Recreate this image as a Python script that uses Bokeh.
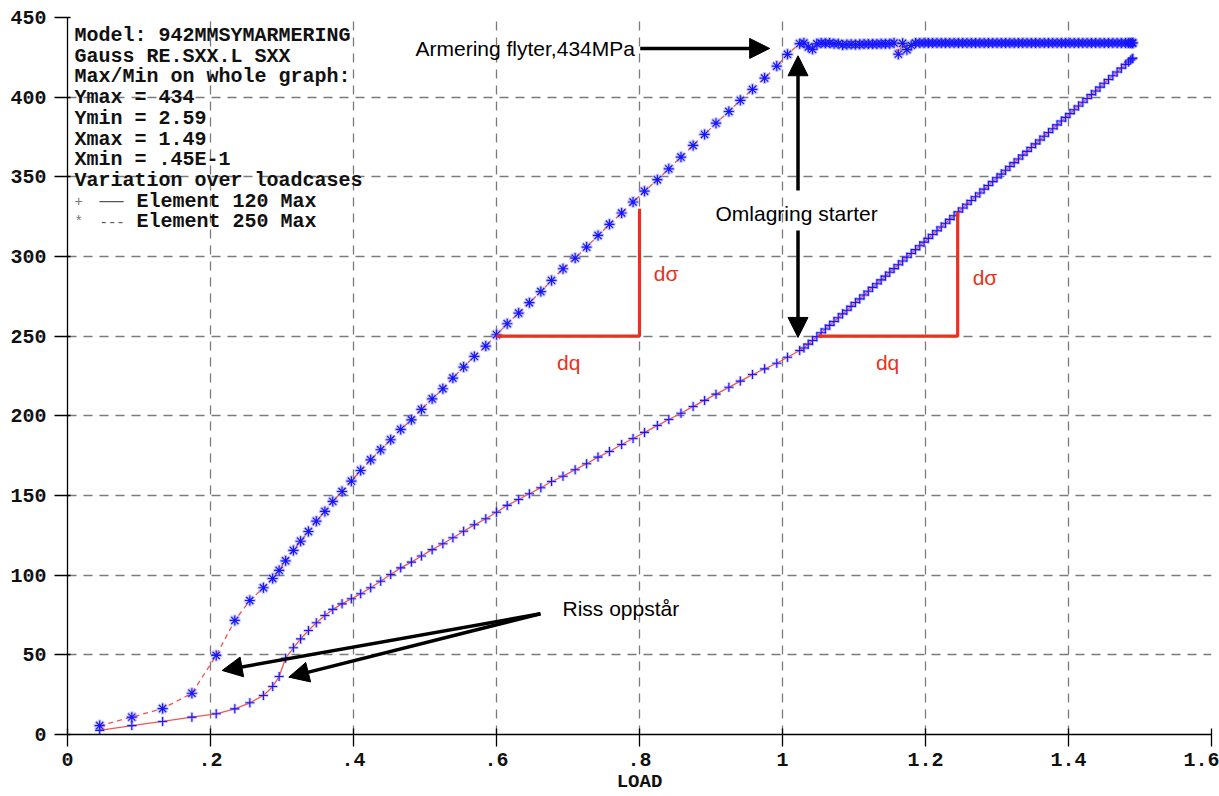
from bokeh.plotting import figure
from bokeh.models import Range1d, FixedTicker, Label, Arrow, NormalHead
from bokeh.embed import file_html
from bokeh.resources import INLINE

# ---------------- data ----------------
load = [
    0.045, 0.090, 0.133, 0.174, 0.208, 0.234, 0.255, 0.274, 0.287, 0.296,
    0.305, 0.316, 0.326, 0.337, 0.348, 0.360, 0.371, 0.384, 0.397, 0.410,
    0.424, 0.438, 0.452, 0.466, 0.481, 0.495, 0.510, 0.525, 0.539, 0.554,
    0.569, 0.585, 0.600, 0.615, 0.631, 0.646, 0.662, 0.677, 0.693, 0.710,
    0.726, 0.742, 0.758, 0.775, 0.791, 0.807, 0.825, 0.841, 0.858, 0.875,
    0.891, 0.907, 0.925, 0.941, 0.958, 0.975, 0.992, 1.007, 1.024,
    1.030, 1.036, 1.042, 1.048, 1.054, 1.060, 1.066, 1.072, 1.078, 1.084,
    1.090, 1.096, 1.102, 1.108, 1.114, 1.120, 1.126, 1.132, 1.138, 1.144,
    1.150, 1.156, 1.162, 1.168, 1.174, 1.180, 1.186, 1.192, 1.198, 1.204,
    1.210, 1.216, 1.222, 1.228, 1.234, 1.240, 1.246, 1.252, 1.258, 1.264,
    1.270, 1.276, 1.282, 1.288, 1.294, 1.300, 1.306, 1.312, 1.318, 1.324,
    1.330, 1.336, 1.342, 1.348, 1.354, 1.360, 1.366, 1.372, 1.378, 1.384,
    1.390, 1.396, 1.402, 1.408, 1.414, 1.420, 1.426, 1.432, 1.438, 1.444,
    1.450, 1.456, 1.462, 1.468, 1.474, 1.480, 1.484, 1.487, 1.489, 1.490,
]

# Element 120 Max (solid line, "+")
elem120 = [
    2.59, 5.6, 8.2, 10.9, 13.0, 16.1, 19.9, 24.5, 30.1, 36.4,
    47.9, 54.4, 60.0, 65.3, 70.1, 74.7, 78.5, 82.0, 85.2, 88.3,
    92.1, 96.2, 100.4, 104.6, 108.2, 112.0, 116.0, 119.7, 123.5, 127.6,
    131.6, 135.4, 139.5, 143.8, 147.5, 151.1, 154.9, 158.8, 162.1, 166.2,
    169.9, 174.1, 177.6, 182.0, 185.8, 189.6, 193.9, 197.7, 201.6, 205.9,
    209.7, 213.6, 217.9, 221.8, 225.9, 229.5, 233.0, 236.8, 241.0,
    242.6, 245.0, 247.3, 249.7, 252.1, 254.5, 256.8, 259.2, 261.6, 264.0,
    266.3, 268.7, 271.1, 273.4, 275.8, 278.2, 280.6, 282.9, 285.3, 287.7,
    290.1, 292.4, 294.8, 297.2, 299.5, 301.9, 304.3, 306.7, 309.0, 311.4,
    313.8, 316.2, 318.5, 320.9, 323.3, 325.6, 328.0, 330.4, 332.8, 335.1,
    337.5, 339.9, 342.3, 344.6, 347.0, 349.4, 351.7, 354.1, 356.5, 358.9,
    361.2, 363.6, 366.0, 368.4, 370.7, 373.1, 375.5, 377.8, 380.2, 382.6,
    385.0, 387.3, 389.7, 392.1, 394.5, 396.8, 399.2, 401.6, 403.9, 406.3,
    408.7, 411.1, 413.4, 415.8, 418.2, 420.6, 422.1, 423.3, 424.1, 424.5,
]

# Element 250 Max (dashed line, "*")
elem250 = [
    5.6, 10.9, 16.3, 25.9, 49.6, 71.6, 84.1, 92.1, 97.9, 103.0,
    109.0, 115.5, 121.3, 127.4, 133.9, 140.0, 146.3, 152.5, 159.0, 165.7,
    172.4, 178.7, 185.0, 191.5, 197.5, 204.0, 210.7, 217.0, 223.7, 230.6,
    237.3, 243.8, 250.9, 257.8, 264.5, 271.0, 278.0, 285.0, 292.3, 299.0,
    305.9, 313.2, 320.2, 327.3, 334.2, 341.0, 348.2, 355.0, 362.4, 369.7,
    376.6, 383.7, 391.0, 398.0, 404.9, 412.0, 419.5, 426.9, 433.6,
    434.0, 431.5, 430.0, 433.5, 434.0, 433.8, 434.0, 433.5, 433.6, 432.8,
    433.0, 433.2, 433.0, 433.2, 433.3, 433.4, 433.3, 433.4, 433.5, 433.5,
    433.6, 434.0, 427.0, 433.8, 429.8, 432.5, 434.0, 434.0, 434.0, 434.0,
    434.0, 434.0, 434.0, 434.0, 434.0, 434.0, 434.0, 434.0, 434.0, 434.0,
    434.0, 434.0, 434.0, 434.0, 434.0, 434.0, 434.0, 434.0, 434.0, 434.0,
    434.0, 434.0, 434.0, 434.0, 434.0, 434.0, 434.0, 434.0, 434.0, 434.0,
    434.0, 434.0, 434.0, 434.0, 434.0, 434.0, 434.0, 434.0, 434.0, 434.0,
    434.0, 434.0, 434.0, 434.0, 434.0, 434.0, 434.0, 434.0, 434.0, 434.0,
]

x_ticks = [0, 0.2, 0.4, 0.6, 0.8, 1.0, 1.2, 1.4, 1.6]
x_tick_labels = ["0", ".2", ".4", ".6", ".8", "1", "1.2", "1.4", "1.6"]
y_ticks = [0, 50, 100, 150, 200, 250, 300, 350, 400, 450]
x_axis_title = "LOAD"

info_lines = [
    "Model: 942MMSYMARMERING",
    "Gauss RE.SXX.L SXX",
    "Max/Min on whole graph:",
    "Ymax = 434",
    "Ymin = 2.59",
    "Xmax = 1.49",
    "Xmin = .45E-1",
    "Variation over loadcases",
]
series_names = ["Element 120 Max", "Element 250 Max"]

# slope triangles (dq / dσ)
tri_left_x = [0.6, 0.8, 0.8]
tri_left_y = [250, 250, 330]
tri_right_x = [1.05, 1.245, 1.245]
tri_right_y = [250, 250, 328]

# ---------------- figure ----------------
MONO = "Liberation Mono"
SANS = "Liberation Sans"
RED = "#e8321e"

p = figure(width=1219, height=796, x_range=Range1d(0, 1.6), y_range=Range1d(0, 450),
           output_backend="svg", toolbar_location=None,
           min_border_left=67, min_border_right=8, min_border_top=17, min_border_bottom=62)
p.outline_line_color = None
p.background_fill_color = "white"
p.border_fill_color = "white"

p.xaxis.ticker = FixedTicker(ticks=x_ticks)
p.xaxis.major_label_overrides = dict(zip(x_ticks, x_tick_labels))
p.yaxis.ticker = FixedTicker(ticks=y_ticks)
p.xaxis.axis_label = x_axis_title

for ax in (p.xaxis, p.yaxis):
    ax.axis_line_color = "black"
    ax.axis_line_width = 1.3
    ax.major_tick_line_color = "black"
    ax.major_tick_line_width = 1.3
    ax.minor_tick_line_color = None
    ax.major_label_text_font = MONO
    ax.major_label_text_font_size = "20px"
    ax.major_label_text_font_style = "bold"
    ax.major_label_text_color = "#111111"

p.xaxis.major_tick_in = 6
p.xaxis.major_tick_out = 12
p.xaxis.major_label_standoff = 6
p.xaxis.axis_label_standoff = 2
p.xaxis.axis_label_text_font = MONO
p.xaxis.axis_label_text_font_size = "19px"
p.xaxis.axis_label_text_font_style = "bold"
p.xaxis.axis_label_text_color = "#111111"

p.yaxis.major_tick_in = 3
p.yaxis.major_tick_out = 13
p.yaxis.major_label_standoff = 8

p.grid.grid_line_color = "#7a7a7a"
p.grid.grid_line_width = 1.3
p.grid.grid_line_dash = "9 7"

# halos
p.scatter(load, elem250, marker="asterisk", size=12, line_color="#7070ff",
          line_alpha=0.4, line_width=3.2)
p.scatter(load, elem120, marker="cross", size=10, line_color="#7070ff",
          line_alpha=0.4, line_width=3.0)
# lines
p.line(load, elem250, line_color="#f05555", line_width=1.3, line_dash="5 4")
p.line(load, elem120, line_color="#f05555", line_width=1.3)
# marker cores
p.scatter(load, elem250, marker="asterisk", size=10, line_color="#1515ff", line_width=1.2)
p.scatter(load, elem120, marker="cross", size=9, line_color="#1515ff", line_width=1.1)

# slope triangles
p.line(tri_left_x, tri_left_y, line_color=RED, line_width=3.2)
p.line(tri_right_x, tri_right_y, line_color=RED, line_width=3.2)

def lab(x, y, text, font=SANS, size="21px", color="black", align="left", style="normal"):
    p.add_layout(Label(x=x, y=y, text=text, text_font=font, text_font_size=size,
                       text_color=color, text_align=align, text_baseline="middle",
                       text_font_style=style))

lab(0.701, 233.5, "dq", color=RED, align="center")
lab(1.147, 233.5, "dq", color=RED, align="center")
lab(0.820, 289.4, "dσ", color=RED)
lab(1.266, 287.0, "dσ", color=RED)

lab(0.4867, 430.6, "Armering flyter,434MPa")
lab(0.9063, 327.0, "Omlagring starter")
lab(0.6923, 79.1, "Riss oppstår")

# info block
for i, t in enumerate(info_lines):
    lab(0.0098, 438.7 - 13.0 * i, t, font=MONO, size="20px", color="#111111", style="bold")
base = 438.7 - 13.0 * len(info_lines)
lab(0.0098, base, "+", font=MONO, size="14px", color="#777777")
lab(0.0448, base, "——", font=MONO, size="20px", color="#555555")
lab(0.0965, base, series_names[0], font=MONO, size="20px", color="#111111", style="bold")
lab(0.0098, base - 13.0, "*", font=MONO, size="14px", color="#777777")
lab(0.0448, base - 13.0, "---", font=MONO, size="14px", color="#555555")
lab(0.0965, base - 13.0, series_names[1], font=MONO, size="20px", color="#111111", style="bold")

# arrows
def arrow(x0, y0, x1, y1):
    p.add_layout(Arrow(end=NormalHead(size=20, fill_color="black", line_color="black"),
                       x_start=x0, y_start=y0, x_end=x1, y_end=y1,
                       line_color="black", line_width=3.5))

arrow(0.801, 430.6, 0.982, 430.6)
arrow(1.0217, 341.5, 1.0217, 426.0)
arrow(1.0217, 316.3, 1.0217, 249.2)
arrow(0.6615, 75.8, 0.2163, 40.2)
arrow(0.6615, 75.8, 0.3095, 36.0)

open("out.html", "w").write(file_html(p, INLINE))
